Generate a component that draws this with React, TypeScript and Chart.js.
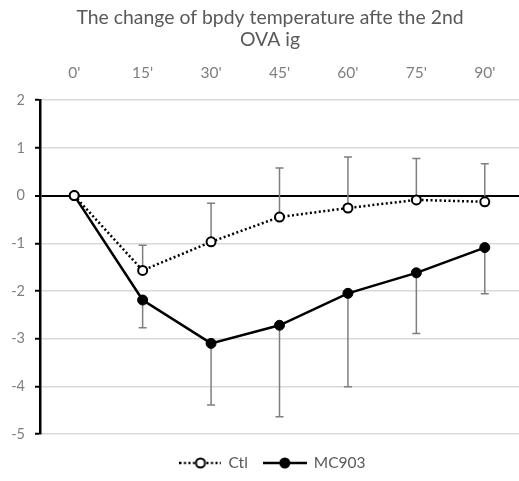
import React, { useEffect, useRef } from 'react';
import { Chart, registerables } from 'chart.js';

Chart.register(...registerables);

const titleLines = ['The change of bpdy temperature afte the 2nd', 'OVA ig'];
const categories = ["0'", "15'", "30'", "45'", "60'", "75'", "90'"];
const yTicks = [2, 1, 0, -1, -2, -3, -4, -5];
const ctlValues = [0, -1.57, -0.97, -0.45, -0.26, -0.09, -0.13];
const ctlErrorsUp = [0, 0.53, 0.81, 1.03, 1.07, 0.87, 0.8];
const mcValues = [0, -2.19, -3.1, -2.72, -2.05, -1.62, -1.09];
const mcErrorsDown = [0, 0.58, 1.29, 1.92, 1.96, 1.27, 0.97];
const seriesNames = ['Ctl', 'MC903'];

const FONT = 'Lato, "Open Sans", sans-serif';
const TEXT = '#595959';
const TICK = '#7f7f7f';

function makeLegendSymbol(dotted: boolean, filled: boolean, w: number) {
  const c = document.createElement('canvas');
  c.width = w;
  c.height = 14;
  const ctx = c.getContext('2d')!;
  ctx.strokeStyle = '#000';
  ctx.lineWidth = 2.5;
  if (dotted) ctx.setLineDash([2, 2.5]);
  ctx.beginPath();
  ctx.moveTo(0, 7);
  ctx.lineTo(w, 7);
  ctx.stroke();
  ctx.setLineDash([]);
  ctx.beginPath();
  ctx.arc(w / 2, 7, 4.5, 0, Math.PI * 2);
  ctx.fillStyle = filled ? '#000' : '#fff';
  ctx.fill();
  ctx.lineWidth = 2;
  ctx.stroke();
  return c;
}

const errorBarPlugin = {
  id: 'errorBars',
  beforeDatasetsDraw(chart: any) {
    const { ctx } = chart;
    const y = chart.scales.y;
    const x = chart.scales.x;
    ctx.save();
    ctx.strokeStyle = '#7f7f7f';
    ctx.lineWidth = 1.5;
    const draw = (vals: number[], errs: number[], dir: number) => {
      vals.forEach((v, i) => {
        if (!errs[i]) return;
        const px = x.getPixelForValue(i);
        const y0 = y.getPixelForValue(v);
        const y1 = y.getPixelForValue(v + dir * errs[i]);
        ctx.beginPath();
        ctx.moveTo(px, y0);
        ctx.lineTo(px, y1);
        ctx.moveTo(px - 4, y1);
        ctx.lineTo(px + 4, y1);
        ctx.stroke();
      });
    };
    draw(ctlValues, ctlErrorsUp, 1);
    draw(mcValues, mcErrorsDown, -1);
    ctx.restore();
  },
};

const titleShiftPlugin = {
  id: 'titleShift',
  afterLayout(chart: any) {
    if (chart.titleBlock) chart.titleBlock.left = 21;
  },
};

const legendPlugin = {
  id: 'customLegend',
  afterDraw(chart: any) {
    const { ctx, chartArea } = chart;
    ctx.save();
    ctx.font = `15.5px ${FONT}`;
    ctx.fillStyle = TEXT;
    ctx.textBaseline = 'middle';
    const symW = [42, 44];
    const gap = 7;
    const itemGap = 15;
    const widths = seriesNames.map((n, i) => symW[i] + gap + ctx.measureText(n).width);
    const total = widths[0] + itemGap + widths[1];
    const cx = (chartArea.left + chartArea.right) / 2 - 7;
    let xPos = cx - total / 2;
    const yPos = chartArea.bottom + 29;
    seriesNames.forEach((n, i) => {
      const sym = makeLegendSymbol(i === 0, i === 1, symW[i]);
      ctx.drawImage(sym, xPos, yPos - 7);
      ctx.fillText(n, xPos + symW[i] + gap, yPos);
      xPos += widths[i] + itemGap;
    });
    ctx.restore();
  },
};

export default function App() {
  const ref = useRef<HTMLCanvasElement | null>(null);
  useEffect(() => {
    document.body.style.margin = '0';
    const chart = new Chart(ref.current!, {
      type: 'line',
      data: {
        labels: categories,
        datasets: [
          {
            label: seriesNames[0],
            data: ctlValues,
            borderColor: '#000',
            borderWidth: 2.5,
            borderDash: [2, 2.5],
            pointRadius: 4.5,
            pointBorderWidth: 2,
            pointBackgroundColor: '#fff',
            pointBorderColor: '#000',
            tension: 0,
          },
          {
            label: seriesNames[1],
            data: mcValues,
            borderColor: '#000',
            borderWidth: 2.5,
            pointRadius: 5,
            pointBorderWidth: 1,
            pointBackgroundColor: '#000',
            pointBorderColor: '#000',
            tension: 0,
          },
        ],
      },
      options: {
        responsive: false,
        animation: false,
        layout: { autoPadding: false, padding: { left: 0, right: 0, top: 0, bottom: 47 } },
        plugins: {
          legend: { display: false },
          tooltip: { enabled: false },
          title: {
            display: true,
            text: titleLines,
            color: TEXT,
            font: { family: FONT, size: 19.4, weight: 'normal' as any, lineHeight: 1.14 },
            padding: { top: 7, bottom: 8 },
          },
        },
        scales: {
          x: {
            type: 'category',
            position: 'top',
            offset: true,
            grid: { display: false, drawTicks: false },
            border: { display: false },
            ticks: { color: TICK, font: { family: FONT, size: 15.5 }, padding: 18 },
            afterFit: (s: any) => {
              s.height = 41;
              s.paddingLeft = 0;
              s.paddingRight = 0;
            },
          },
          y: {
            min: -5,
            max: 2,
            afterBuildTicks: (s: any) => { s.ticks = yTicks.map((v) => ({ value: v })); },
            grid: {
              color: (c: any) => (c.tick && c.tick.value === 0 ? '#000' : '#d9d9d9'),
              lineWidth: (c: any) => (c.tick && c.tick.value === 0 ? 2 : 1.5),
              tickColor: '#000',
              tickLength: 5,
              tickWidth: 2,
            },
            border: { display: true, color: '#000', width: 2.5 },
            ticks: { color: TICK, font: { family: FONT, size: 14.5 }, padding: 10 },
            afterFit: (s: any) => { s.width = 40; },
          },
        },
      },
      plugins: [errorBarPlugin, titleShiftPlugin, legendPlugin],
    });
    return () => chart.destroy();
  }, []);
  return (
    <div style={{ width: 519, height: 481 }}>
      <canvas ref={ref} width={519} height={481} />
    </div>
  );
}
